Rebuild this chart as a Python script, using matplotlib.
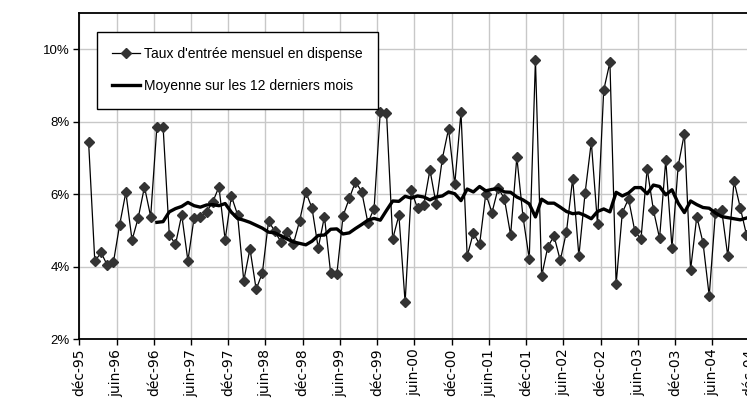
import numpy as np
import matplotlib
matplotlib.use("Agg")
import matplotlib.pyplot as plt
from matplotlib.ticker import FuncFormatter

# monthly entry rate (%), janv-96 onwards
taux = [7.43, 4.14, 4.39, 4.04, 4.12, 5.15, 6.05, 4.73, 5.35, 6.20, 5.38, 7.86,
        7.86, 4.88, 4.61, 5.43, 4.16, 5.35, 5.38, 5.51, 5.78, 6.20, 4.74, 5.95,
        5.43, 3.61, 4.49, 3.37, 3.83, 5.26, 4.97, 4.68, 4.96, 4.63, 5.26, 6.06,
        5.61, 4.51, 5.38, 3.82, 3.79, 5.40, 5.88, 6.34, 6.07, 5.21, 5.60, 8.28,
        8.25, 4.76, 5.42, 3.01, 6.10, 5.61, 5.70, 6.67, 5.72, 6.98, 7.80, 6.27,
        8.26, 4.29, 4.93, 4.61, 6.01, 5.49, 6.17, 5.87, 4.87, 7.02, 5.37, 4.21,
        9.71, 3.74, 4.55, 4.84, 4.17, 4.96, 6.43, 4.29, 6.03, 7.44, 5.18, 8.87,
        9.64, 3.51, 5.49, 5.87, 4.99, 4.75, 6.70, 5.57, 4.78, 6.94, 4.52, 6.78,
        7.67, 3.91, 5.38, 4.66, 3.19, 5.49, 5.57, 4.28, 6.36, 5.63, 4.88]

# 12-month average, starts at the 12th month
moyenne = [5.22, 5.24, 5.51, 5.60, 5.66, 5.77, 5.68, 5.64, 5.70, 5.71, 5.68, 5.74,
           5.50, 5.33, 5.28, 5.22, 5.14, 5.06, 4.95, 4.93, 4.85, 4.76, 4.68, 4.64,
           4.60, 4.70, 4.86, 4.87, 5.03, 5.04, 4.90, 4.93, 5.05, 5.16, 5.28, 5.33,
           5.28, 5.55, 5.81, 5.80, 5.94, 5.89, 5.95, 5.92, 5.84, 5.92, 5.95, 6.06,
           6.01, 5.82, 6.14, 6.06, 6.21, 6.09, 6.13, 6.15, 6.06, 6.05, 5.92, 5.84,
           5.73, 5.37, 5.86, 5.75, 5.75, 5.64, 5.52, 5.46, 5.48, 5.41, 5.32, 5.52,
           5.59, 5.51, 6.05, 5.95, 6.03, 6.18, 6.18, 6.01, 6.25, 6.21, 5.98, 6.12,
           5.75, 5.49, 5.81, 5.71, 5.63, 5.61, 5.48, 5.38, 5.35, 5.32, 5.29, 5.34]

tick_labels = ["déc-95"]
for yy in ["96", "97", "98", "99", "00", "01", "02", "03", "04"]:
    tick_labels += ["juin-" + yy, "déc-" + yy]

narrow = ["Liberation Sans", "DejaVu Sans"]

x = np.arange(1, len(taux) + 1) + 0.5
ma = np.full(len(taux), np.nan)
ma[11:] = moyenne

fig = plt.figure(figsize=(7.47, 4.05), dpi=100)
ax = fig.add_axes([79.3 / 747, 66 / 405, 114 * 6.206 / 747, 326 / 405])

ax.plot(x, taux, color="black", lw=0.9, marker="D", ms=5.4,
        mfc="#333333", mec="#333333", label="Taux d'entrée mensuel en dispense")
ax.plot(x, ma, color="black", lw=2.4, label="Moyenne sur les 12 derniers mois")

ax.set_xlim(0, 114)
ax.set_ylim(2, 11)
ax.set_xticks(np.arange(0, 6 * len(tick_labels), 6))
ax.set_xticklabels(tick_labels, rotation=90, fontsize=10, family="DejaVu Sans")
ax.set_yticks([2, 4, 6, 8, 10])
ax.yaxis.set_major_formatter(FuncFormatter(lambda v, p: "%d%%" % v))
for t in ax.get_yticklabels():
    t.set_family(narrow)
    t.set_fontsize(9.5)

ax.grid(True, color="#c8c8c8", lw=1)
ax.set_axisbelow(True)
ax.spines["right"].set_visible(False)
for s in ["top", "left", "bottom"]:
    ax.spines[s].set_linewidth(1.3)
ax.tick_params(axis="both", direction="out", length=4, width=1, pad=3)

leg = ax.legend(loc="upper left", bbox_to_anchor=(0.025, 0.942), frameon=True,
                fancybox=False, edgecolor="black", framealpha=1,
                prop={"family": narrow, "size": 10}, handlelength=2.0,
                handletextpad=0.3, borderpad=1.1, labelspacing=1.3,
                borderaxespad=0)
leg.get_frame().set_linewidth(1.0)

fig.savefig("out.png", dpi=100)
